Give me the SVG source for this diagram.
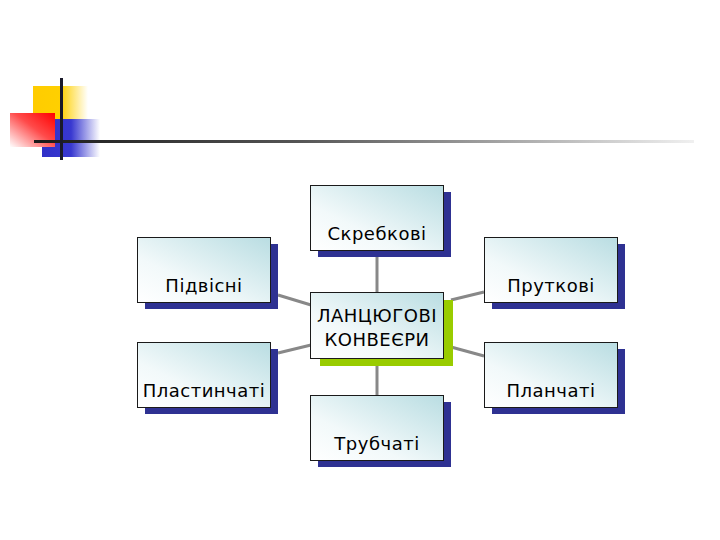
<svg xmlns="http://www.w3.org/2000/svg" width="720" height="540" viewBox="0 0 720 540">
<defs>
<linearGradient id="boxg" x1="0" y1="1" x2="1" y2="0">
<stop offset="0" stop-color="#ffffff"/>
<stop offset="0.35" stop-color="#f2f9fa"/>
<stop offset="1" stop-color="#b9dde2"/>
</linearGradient>
<linearGradient id="yel" x1="0" y1="0" x2="1" y2="0">
<stop offset="0" stop-color="#ffcc00"/>
<stop offset="0.5" stop-color="#ffd000"/>
<stop offset="1" stop-color="#ffffff"/>
</linearGradient>
<linearGradient id="blu" x1="0" y1="0" x2="1" y2="0">
<stop offset="0" stop-color="#3030c8"/>
<stop offset="0.5" stop-color="#3838d0"/>
<stop offset="1" stop-color="#ffffff"/>
</linearGradient>
<linearGradient id="red" x1="1" y1="0" x2="0" y2="1">
<stop offset="0" stop-color="#ff0000"/>
<stop offset="0.45" stop-color="#ff4a4a"/>
<stop offset="1" stop-color="#ffffff"/>
</linearGradient>
<linearGradient id="hline" x1="0" y1="0" x2="1" y2="0">
<stop offset="0" stop-color="#1a1a1a"/>
<stop offset="0.4" stop-color="#555555"/>
<stop offset="1" stop-color="#f0f0f0"/>
</linearGradient>
<style>
.box{fill:url(#boxg);stroke:#1a1a1a;stroke-width:1}
.sh{fill:#2e3192}
.shg{fill:#99cc00}
.lbl{font-family:"DejaVu Sans",Verdana,sans-serif;font-size:18px;letter-spacing:0.5px;fill:#000;text-anchor:middle}
.con{stroke:#888888;stroke-width:3;fill:none}
</style>
</defs>
<rect width="720" height="540" fill="#ffffff"/>
<g id="logo">
<rect x="33" y="86" width="55" height="34" fill="url(#yel)"/>
<rect x="42" y="119" width="58" height="38" fill="url(#blu)"/>
<rect x="10" y="113" width="45" height="34" fill="url(#red)"/>
<rect x="34" y="140" width="660" height="3" fill="url(#hline)"/>
<rect x="60" y="78" width="3" height="82" fill="#1a1a2a"/>
</g>
<g id="connectors">
<line class="con" x1="377" y1="250" x2="377" y2="292"/>
<line class="con" x1="377" y1="358" x2="377" y2="395"/>
<line class="con" x1="278" y1="295" x2="311" y2="305"/>
<line class="con" x1="278" y1="353" x2="311" y2="345"/>
<line class="con" x1="451" y1="300" x2="484" y2="292"/>
<line class="con" x1="451" y1="347" x2="484" y2="356"/>
</g>
<g id="n-center">
<rect class="shg" x="320" y="300" width="133" height="66"/>
<rect class="box" x="310.500" y="292.500" width="133" height="66"/>
<text class="lbl" x="377" y="322">ЛАНЦЮГОВІ</text>
<text class="lbl" x="377" y="346">КОНВЕЄРИ</text>
</g>
<g id="n-skrebkovi">
<rect class="sh" x="318" y="192" width="133" height="65"/>
<rect class="box" x="310.500" y="185.500" width="133" height="65"/>
<text class="lbl" x="377" y="240">Скребкові</text>
</g>
<g id="n-pidvisni">
<rect class="sh" x="145" y="244" width="133" height="65"/>
<rect class="box" x="137.500" y="237.500" width="133" height="65"/>
<text class="lbl" x="204" y="292">Підвісні</text>
</g>
<g id="n-prutkovi">
<rect class="sh" x="492" y="244" width="133" height="65"/>
<rect class="box" x="484.500" y="237.500" width="133" height="65"/>
<text class="lbl" x="551" y="292">Пруткові</text>
</g>
<g id="n-plastynchati">
<rect class="sh" x="145" y="349" width="133" height="65"/>
<rect class="box" x="137.500" y="342.500" width="133" height="65"/>
<text class="lbl" x="204" y="397">Пластинчаті</text>
</g>
<g id="n-planchati">
<rect class="sh" x="492" y="349" width="133" height="65"/>
<rect class="box" x="484.500" y="342.500" width="133" height="65"/>
<text class="lbl" x="551" y="397">Планчаті</text>
</g>
<g id="n-trubchati">
<rect class="sh" x="318" y="402" width="133" height="65"/>
<rect class="box" x="310.500" y="395.500" width="133" height="65"/>
<text class="lbl" x="377" y="450">Трубчаті</text>
</g>
</svg>
